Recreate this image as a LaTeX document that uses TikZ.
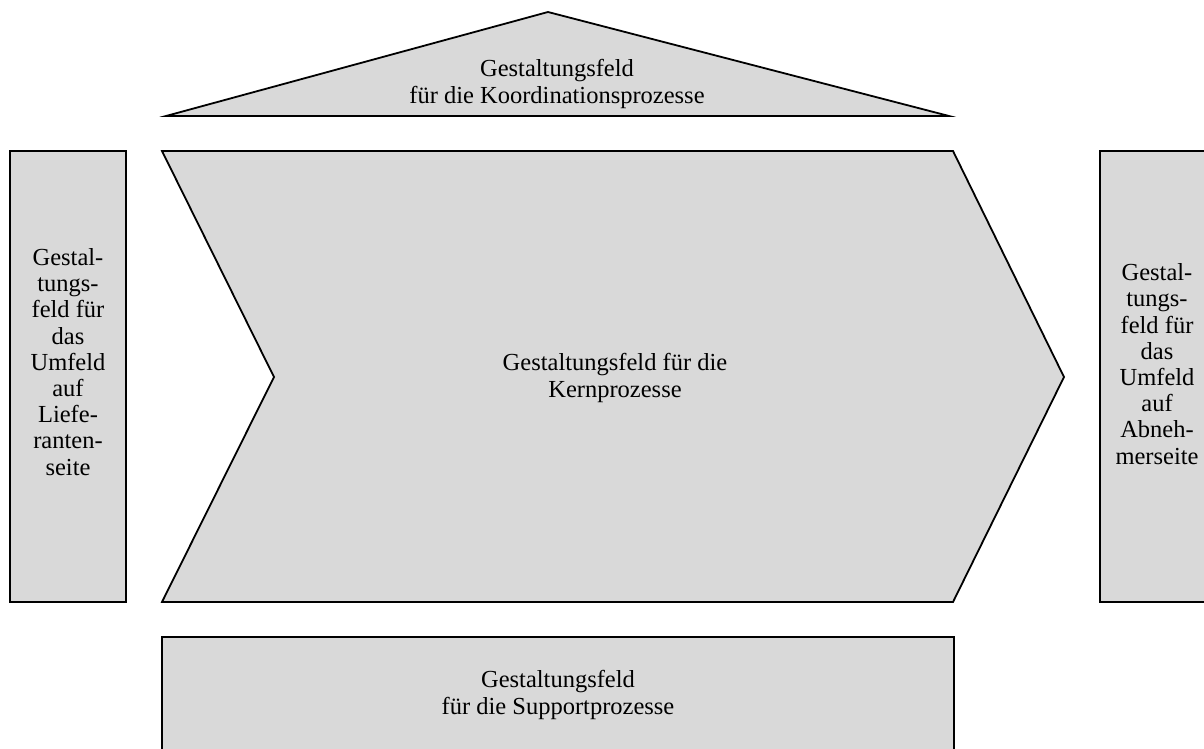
\documentclass[tikz,border=0pt]{standalone}
\usepackage{fontspec}
\setmainfont{Liberation Serif}
\definecolor{panel}{RGB}{217,217,217}
\begin{document}
\begin{tikzpicture}[x=1pt,y=-1pt,
  field/.style={fill=panel,draw=black,line width=1.8pt,line join=miter},
  label/.style={align=center,font=\fontsize{24.5}{27.5}\selectfont,inner sep=0pt},
  sidelabel/.style={align=center,font=\fontsize{24.5}{26.2}\selectfont,inner sep=0pt}]
\clip (0,0) rectangle (1204,749);
% coordination processes (roof)
\draw[field] (166,116) -- (548,12) -- (949,116) -- cycle;
% supplier side
\draw[field] (10,151) rectangle (126,602);
% core processes (chevron)
\draw[field] (162,151) -- (953,151) -- (1064,377) -- (953,602) -- (162,602) -- (274,377) -- cycle;
% customer side
\draw[field] (1100,151) rectangle (1216,602);
% support processes
\draw[field] (162,637) rectangle (954,770);

\node[label] (koord) at (557,84) {Gestaltungsfeld\\für die Koordinationsprozesse};
\node[sidelabel] (liefer) at (68,362) {Gestal-\\tungs-\\feld für\\das\\Umfeld\\auf\\Liefe-\\ranten-\\seite};
\node[label] (kern) at (615,378) {Gestaltungsfeld für die\\Kernprozesse};
\node[sidelabel] (abnehm) at (1157,364) {Gestal-\\tungs-\\feld für\\das\\Umfeld\\auf\\Abneh-\\merseite};
\node[label] (support) at (558,695) {Gestaltungsfeld\\für die Supportprozesse};
\end{tikzpicture}
\end{document}
